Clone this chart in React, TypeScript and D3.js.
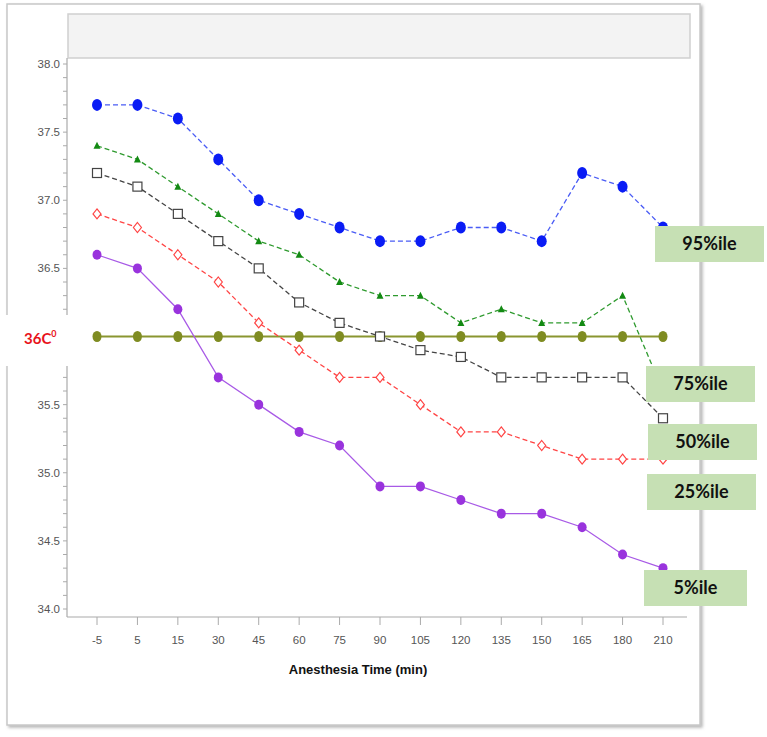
import React from "react";
import * as d3 from "d3";

const categories = ["-5", "5", "15", "30", "45", "60", "75", "90", "105", "120", "135", "150", "165", "180", "210"];
const p95 = [37.7, 37.7, 37.6, 37.3, 37.0, 36.9, 36.8, 36.7, 36.7, 36.8, 36.8, 36.7, 37.2, 37.1, 36.8];
const p75 = [37.4, 37.3, 37.1, 36.9, 36.7, 36.6, 36.4, 36.3, 36.3, 36.1, 36.2, 36.1, 36.1, 36.3, 35.6];
const p50 = [37.2, 37.1, 36.9, 36.7, 36.5, 36.25, 36.1, 36.0, 35.9, 35.85, 35.7, 35.7, 35.7, 35.7, 35.4];
const p25 = [36.9, 36.8, 36.6, 36.4, 36.1, 35.9, 35.7, 35.7, 35.5, 35.3, 35.3, 35.2, 35.1, 35.1, 35.1];
const p5 = [36.6, 36.5, 36.2, 35.7, 35.5, 35.3, 35.2, 34.9, 34.9, 34.8, 34.7, 34.7, 34.6, 34.4, 34.3];
const ref36 = [36, 36, 36, 36, 36, 36, 36, 36, 36, 36, 36, 36, 36, 36, 36];
const yDomain = [34, 38];
const hiddenTick = 36;
const legendLabels = ["95%ile", "75%ile", "50%ile", "25%ile", "5%ile"];

type Series = { values: number[]; line: string; marker: string; dash: string; shape: string; width: number };

const series: Series[] = [
  { values: ref36, line: "#8a9630", marker: "#7f8c22", dash: "", shape: "ellipse", width: 2 },
  { values: p5, line: "#a85ae6", marker: "#9933dd", dash: "", shape: "circle", width: 1.3 },
  { values: p25, line: "#ff4444", marker: "#ff4444", dash: "5,3", shape: "diamond", width: 1.3 },
  { values: p50, line: "#444444", marker: "#444444", dash: "5,3", shape: "square", width: 1.3 },
  { values: p75, line: "#2e9a2e", marker: "#138a13", dash: "5,3", shape: "triangle", width: 1.3 },
  { values: p95, line: "#4a5cf5", marker: "#0a1cf5", dash: "5,3", shape: "bigcircle", width: 1.3 },
];

const legendBoxes = [
  { x: 655, y: 226, w: 109, h: 36 },
  { x: 646, y: 366, w: 109, h: 36 },
  { x: 648, y: 424, w: 109, h: 36 },
  { x: 647, y: 474, w: 109, h: 36 },
  { x: 644, y: 570, w: 103, h: 36 },
];

export default function App() {
  const x = d3.scalePoint<string>().domain(categories).range([97, 663]);
  const y = d3.scaleLinear().domain(yDomain).range([609, 64]);
  const minor = d3.range(yDomain[0], yDomain[1] + 0.001, 0.1).filter((v) => Math.abs(v - hiddenTick) > 0.15);
  const major = y.ticks(8).filter((v) => Math.abs(v - hiddenTick) > 0.01);
  const axisX0 = 67;
  const axisY = 617;
  const tickFont = "'Liberation Sans Narrow', 'Liberation Sans', Arial, sans-serif";

  const marker = (s: Series, cx: number, cy: number, i: number) => {
    switch (s.shape) {
      case "ellipse":
        return <ellipse key={i} cx={cx} cy={cy} rx={4.5} ry={5.5} fill={s.marker} />;
      case "circle":
        return <ellipse key={i} cx={cx} cy={cy} rx={4.5} ry={5} fill={s.marker} />;
      case "bigcircle":
        return <ellipse key={i} cx={cx} cy={cy} rx={5} ry={6} fill={s.marker} />;
      case "diamond":
        return (
          <path key={i} d={`M${cx},${cy - 5}L${cx + 4},${cy}L${cx},${cy + 5}L${cx - 4},${cy}Z`} fill="white" stroke={s.marker} strokeWidth={1.2} />
        );
      case "square":
        return <rect key={i} x={cx - 4.5} y={cy - 4.5} width={9} height={9} fill="white" stroke={s.marker} strokeWidth={1.2} />;
      case "triangle":
        return <path key={i} d={`M${cx},${cy - 4}L${cx + 3.5},${cy + 3}L${cx - 3.5},${cy + 3}Z`} fill={s.marker} />;
    }
    return null;
  };

  const line = d3
    .line<number>()
    .x((_, i) => x(categories[i]) as number)
    .y((d) => y(d));

  return (
    <svg width={767} height={737} style={{ position: "absolute", left: 0, top: 0, background: "white" }}>
      <defs>
        <filter id="sh" x="-5%" y="-5%" width="110%" height="110%">
          <feDropShadow dx="2" dy="2" stdDeviation="1.5" floodColor="#888" floodOpacity="0.6" />
        </filter>
      </defs>
      {/* outer frame */}
      <rect x={7} y={4} width={693} height={721} fill="white" stroke="#c8c8c8" strokeWidth={1.5} filter="url(#sh)" />
      {/* title box */}
      <rect x={68} y={14} width={622} height={44} fill="#f3f3f3" stroke="#cfcfcf" strokeWidth={1.5} />

      {/* axes */}
      <line x1={axisX0} x2={axisX0} y1={58} y2={axisY} stroke="#aaa" strokeWidth={1.2} />
      <line x1={axisX0} x2={687} y1={axisY} y2={axisY} stroke="#aaa" strokeWidth={1.2} />
      {minor.map((v, i) => (
        <line key={i} x1={axisX0 - 4} x2={axisX0} y1={y(v)} y2={y(v)} stroke="#aaa" strokeWidth={1} />
      ))}
      {major.map((v, i) => (
        <text key={i} x={60} y={y(v) + 4} textAnchor="end" fontSize={11.5} fill="#555" fontFamily={tickFont}>
          {d3.format(".1f")(v)}
        </text>
      ))}
      {categories.map((c, i) => (
        <g key={i}>
          <line x1={x(c)} x2={x(c)} y1={axisY} y2={axisY + 8} stroke="#aaa" strokeWidth={1} />
          <text x={x(c)} y={axisY + 27} textAnchor="middle" fontSize={11.5} fill="#555" fontFamily={tickFont}>
            {c}
          </text>
        </g>
      ))}
      <text x={358} y={674} textAnchor="middle" fontSize={13} fontWeight="bold" fill="#111" fontFamily="'Liberation Sans', Arial, sans-serif">
        Anesthesia Time (min)
      </text>

      {/* series */}
      {series.map((s, si) => (
        <g key={si}>
          <path d={line(s.values) || ""} fill="none" stroke={s.line} strokeWidth={s.width} strokeDasharray={s.dash} />
          {s.values.map((v, i) => marker(s, x(categories[i]) as number, y(v), i))}
        </g>
      ))}

      {/* 36C label box */}
      <rect x={0} y={315} width={68} height={51} fill="white" />
      <text x={24} y={344} fontSize={15} fontWeight="bold" fill="#e8141c" fontFamily="Lato, 'Open Sans', sans-serif">
        36C<tspan dy={-7} fontSize={9}>0</tspan>
      </text>

      {/* legend labels */}
      {legendBoxes.map((b, i) => (
        <g key={i}>
          <rect x={b.x} y={b.y} width={b.w} height={b.h} fill="#c6e0b4" />
          <text x={b.x + b.w / 2} y={b.y + b.h / 2 + 6} textAnchor="middle" fontSize={18} fontWeight="bold" fill="#111" fontFamily="Lato, 'Open Sans', sans-serif">
            {legendLabels[i]}
          </text>
        </g>
      ))}
    </svg>
  );
}
